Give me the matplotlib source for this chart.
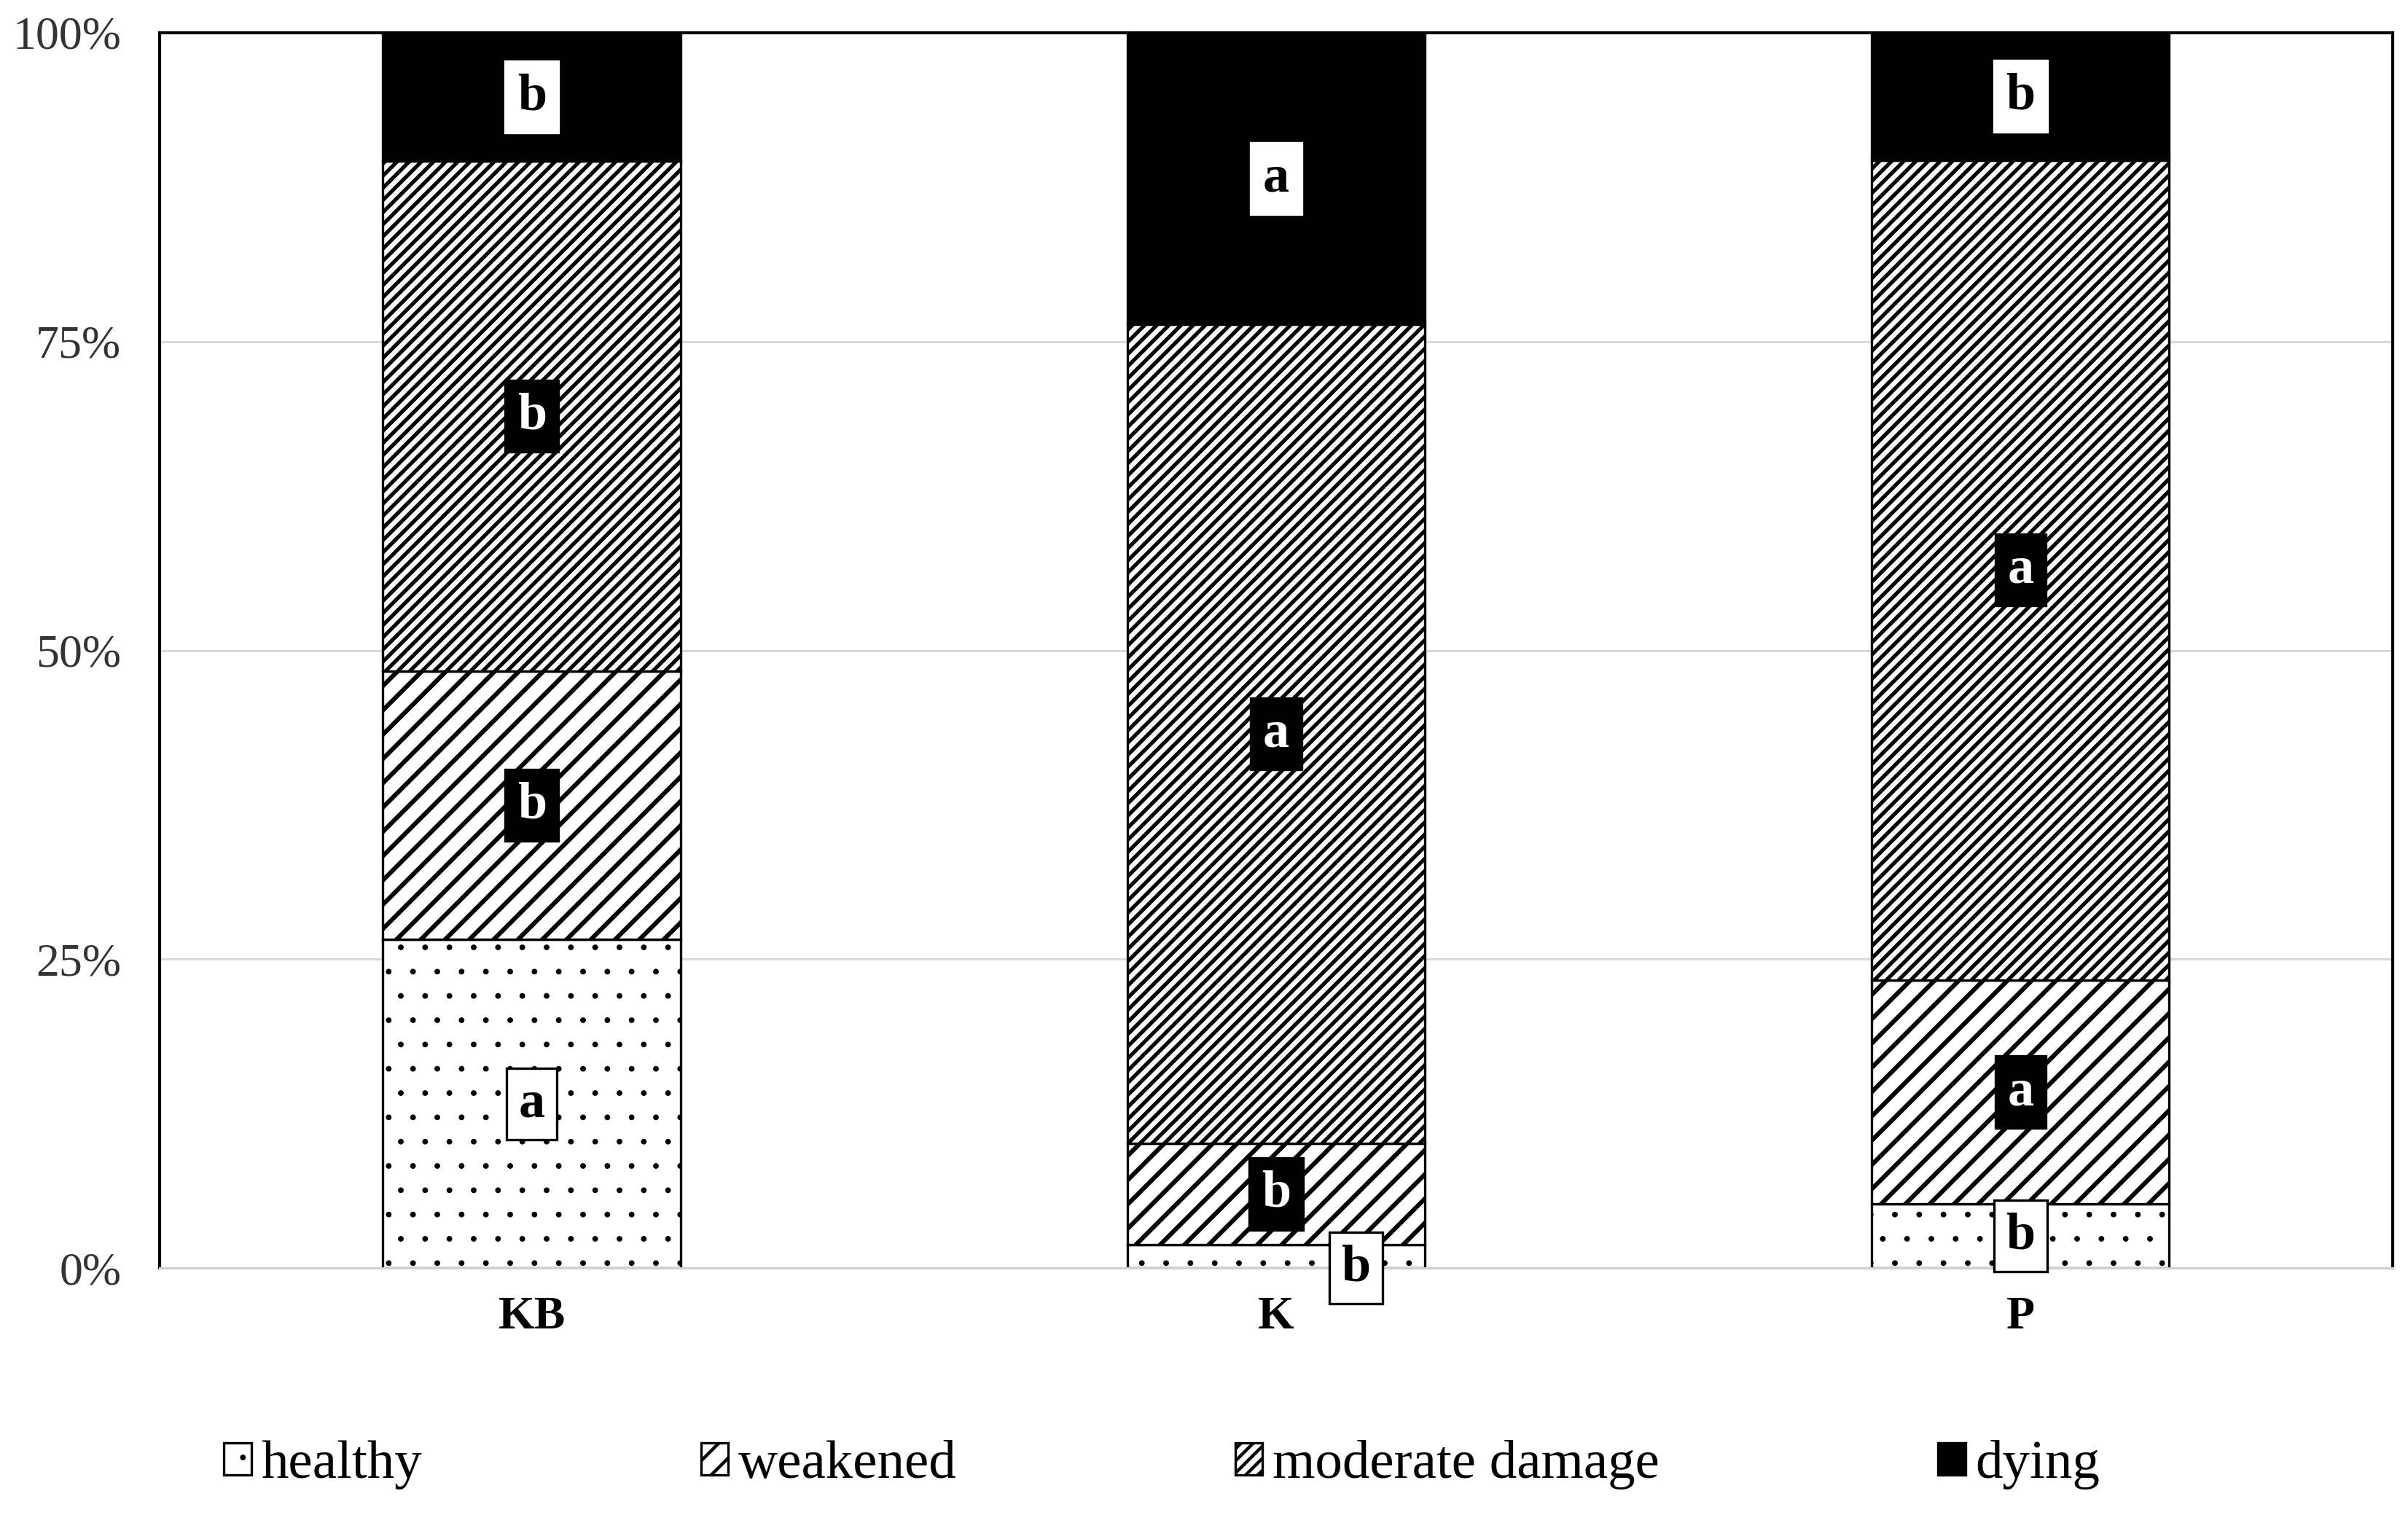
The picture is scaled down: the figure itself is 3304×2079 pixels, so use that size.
import matplotlib
matplotlib.use('Agg')
from matplotlib import pyplot as plt
import numpy as np

sites = ['KB', 'K', 'P']
classes = ['healthy', 'weakened', 'moderate damage', 'dying']
healthy = [26.6, 1.9, 5.2]
weakened = [21.7, 8.2, 18.1]
moderate = [41.3, 66.3, 66.4]
dying = [10.4, 23.6, 10.3]
letters_healthy = ['a', 'b', 'b']
letters_weakened = ['b', 'b', 'a']
letters_moderate = ['b', 'a', 'a']
letters_dying = ['b', 'a', 'b']

plt.rcParams['font.family'] = ['Liberation Serif', 'DejaVu Serif']
plt.rcParams['hatch.color'] = 'black'

fig = plt.figure(figsize=(16.525, 10.395), dpi=200)
ax = fig.add_axes([0.0663, 0.163, 0.927, 0.8154])

series = [healthy, weakened, moderate, dying]
letters = [letters_healthy, letters_weakened, letters_moderate, letters_dying]
hatches = ['.', '//', '////', None]
hatch_lw = [0.4, 2.2, 1.9, 1.0]
faces = ['white', 'white', 'white', 'black']
# label box style per series: (box face, box edge, text colour)
lab_style = [('white', 'black', 'black'), ('black', 'black', 'white'),
             ('black', 'black', 'white'), ('white', 'white', 'black')]

x = np.arange(len(sites))
bottom = np.zeros(len(sites))
for vals, name, htc, hlw, fc, lets, st in zip(series, classes, hatches, hatch_lw, faces, letters, lab_style):
    vals = np.array(vals)
    plt.rcParams['hatch.linewidth'] = hlw
    bars = ax.bar(x, vals, width=0.4, bottom=bottom, color=fc, edgecolor='black',
                  hatch=htc, linewidth=1.2, label=name, zorder=2)
    for p in bars:
        if hasattr(p, 'set_hatch_linewidth'):
            p.set_hatch_linewidth(hlw)
    for xi, b, h, t in zip(x, bottom, vals, lets):
        lx, ly = xi, b + h / 2
        if h < 3:
            lx, ly = xi + 0.107, 0
        ax.text(lx, ly, t, ha='center', va='center', fontsize=26, fontweight='bold',
                color=st[2], zorder=4,
                bbox=dict(boxstyle='square,pad=0.23', fc=st[0], ec=st[1], lw=1.2))
    bottom = bottom + vals

ax.set_xlim(-0.5, 2.5)
ax.set_ylim(0, 100)
ax.set_yticks([0, 25, 50, 75, 100])
ax.set_yticklabels(['0%', '25%', '50%', '75%', '100%'], fontsize=23, color='#333333')
ax.set_xticks(x)
ax.set_xticklabels(sites, fontsize=23, fontweight='bold')
ax.tick_params(axis='y', length=0, pad=19)
ax.tick_params(axis='x', length=0, pad=14)
ax.yaxis.grid(True, color='#d9d9d9', linewidth=1.1, zorder=0)
ax.set_axisbelow(True)

for s in ['left', 'top', 'right']:
    ax.spines[s].set_linewidth(1.5)
    ax.spines[s].set_color('black')
ax.spines['bottom'].set_color('#d0d0d0')
ax.spines['bottom'].set_linewidth(1.1)

leg = ax.legend(loc='center left', bbox_to_anchor=(0.093, 0.033), bbox_transform=fig.transFigure,
                ncol=4, frameon=False, fontsize=27, handlelength=0.5, handleheight=0.53,
                handletextpad=0.18, columnspacing=5.1, borderpad=0, borderaxespad=0)
for p, hlw in zip(leg.get_patches(), hatch_lw):
    if hasattr(p, 'set_hatch_linewidth'):
        p.set_hatch_linewidth(min(hlw, 1.6))

fig.savefig('out.png', dpi=200)
